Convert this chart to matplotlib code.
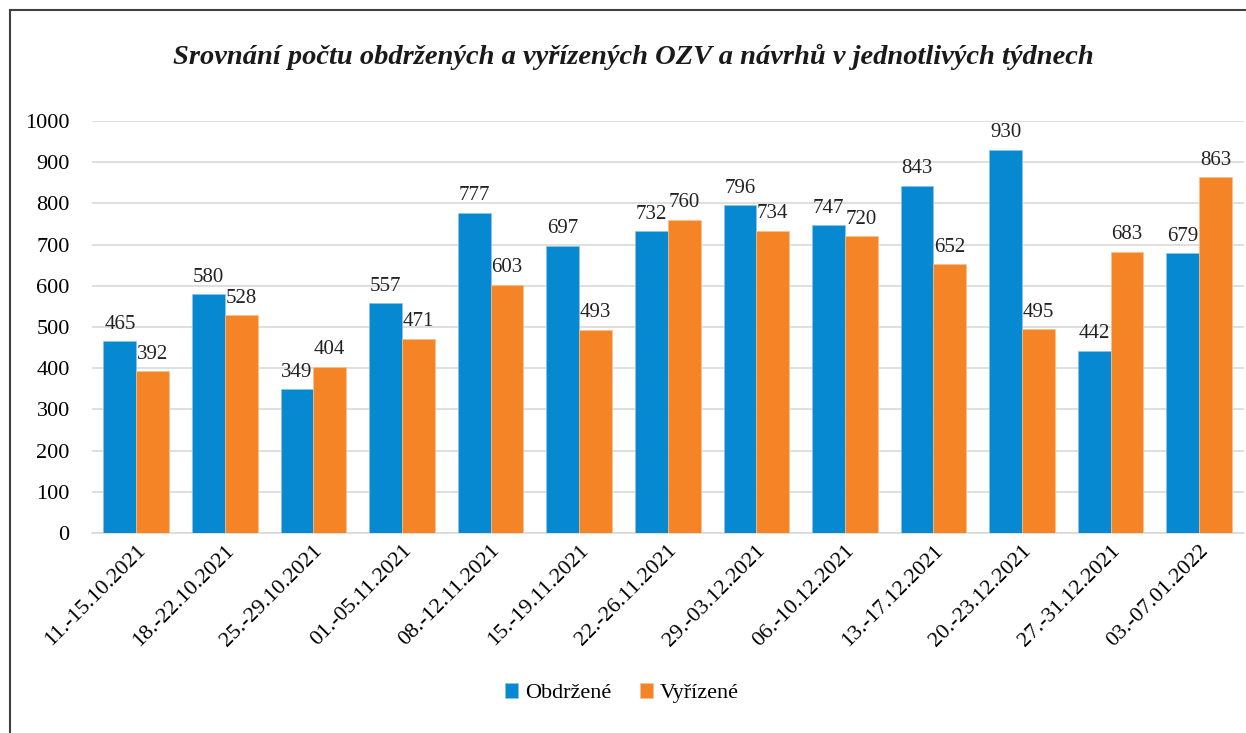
import matplotlib.pyplot as plt
import numpy as np
from matplotlib.lines import Line2D

weeks = ['11.-15.10.2021', '18.-22.10.2021', '25.-29.10.2021', '01.-05.11.2021',
         '08.-12.11.2021', '15.-19.11.2021', '22.-26.11.2021', '29.-03.12.2021',
         '06.-10.12.2021', '13.-17.12.2021', '20.-23.12.2021', '27.-31.12.2021',
         '03.-07.01.2022']
obdrzene = [465, 580, 349, 557, 777, 697, 732, 796, 747, 843, 930, 442, 679]
vyrizene = [392, 528, 404, 471, 603, 493, 760, 734, 720, 652, 495, 683, 863]

blue = '#0689D0'
orange = '#F58426'
serif = 'Liberation Serif'

fig = plt.figure(figsize=(12.46, 7.33), dpi=100)
ax = fig.add_axes([0.0738, 0.2729, 0.9242, 0.5621])

x = np.arange(len(weeks))
w = 0.37
b1 = ax.bar(x - w / 2, obdrzene, w, color=blue, edgecolor='#8cc4e8', linewidth=0.5, label='Obdržené', zorder=3)
b2 = ax.bar(x + w / 2, vyrizene, w, color=orange, edgecolor='#f9c08f', linewidth=0.5, label='Vyřízené', zorder=3)

for bars in (b1, b2):
    for r in bars:
        ax.text(r.get_x() + r.get_width() / 2, r.get_height() + 18, str(int(r.get_height())),
                ha='center', va='bottom', fontsize=15, family=serif, color='#222222')

ax.set_xlim(-0.5, len(weeks) - 0.5)
ax.set_ylim(0, 1000)
ax.set_yticks(range(0, 1001, 100))
ax.yaxis.grid(True, color='#d9d9d9', linewidth=1.2, zorder=0)
ax.set_axisbelow(True)
for s in ['top', 'right', 'left']:
    ax.spines[s].set_visible(False)
ax.spines['bottom'].set_color('#d9d9d9')
ax.spines['bottom'].set_linewidth(1.2)
ax.tick_params(length=0)
ax.tick_params(axis='y', pad=16)
ax.tick_params(axis='x', pad=6)
ax.set_xticks(x)
ax.set_xticklabels(weeks, rotation=45, ha='right', rotation_mode='anchor', fontsize=16, family=serif)
for t in ax.get_yticklabels():
    t.set_family(serif)
    t.set_fontsize(16)

fig.text(0.508, 0.922, 'Srovnání počtu obdržených a vyřízených OZV a návrhů v jednotlivých týdnech',
         ha='center', va='center', fontsize=20.5, family=serif, style='italic', weight='bold', color='#1a1a1a')

fig.legend(handles=[b1, b2], loc='center', bbox_to_anchor=(0.499, 0.054), ncol=2, frameon=False,
           prop={'family': serif, 'size': 16}, handlelength=0.6, handleheight=0.6, handletextpad=0.3, columnspacing=1.3)

# frame around the chart
fig.add_artist(Line2D([10 / 1246, 10 / 1246], [0, 1 - 10 / 733], color='#404040', linewidth=1.5))
fig.add_artist(Line2D([10 / 1246, 1], [1 - 10 / 733, 1 - 10 / 733], color='#404040', linewidth=1.5))

fig.savefig('out.png', dpi=100)
